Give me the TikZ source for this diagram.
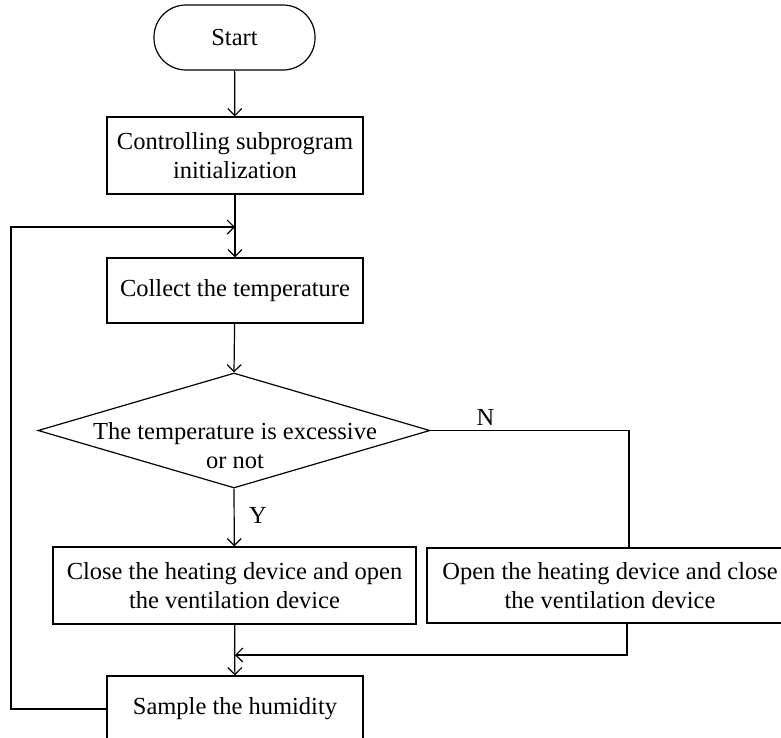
\documentclass[tikz,border=0pt]{standalone}
\usepackage{fontspec}
\setmainfont{Liberation Serif}
\usetikzlibrary{arrows.meta,shapes.geometric}
\begin{document}
\begin{tikzpicture}[x=1pt,y=-1pt,
  line width=1.2pt,
  font=\fontsize{24.5}{29}\selectfont,
  arr/.style={-{Straight Barb[length=7pt,width=14pt,line width=1.2pt]}},
  procbox/.style={draw,rectangle,inner sep=0pt,align=center},
  term/.style={draw,rectangle,rounded corners=32pt,inner sep=0pt,minimum width=161pt,minimum height=65pt},
  lbl/.style={anchor=base,inner sep=0pt}]
\useasboundingbox (0,0) rectangle (781,737);
\clip (0,0) rectangle (781,737);
\node[term] (start) at (234.5,37.5) {Start};
\node[procbox,minimum width=256pt,minimum height=77pt] (init) at (235,155.5) {Controlling subprogram\\initialization};
\node[procbox,minimum width=256pt,minimum height=65pt] (collect) at (235,290.5) {Collect the temperature};
\node[draw,diamond,inner sep=0pt,minimum width=392pt,minimum height=115pt] (dec) at (234,430.5) {};
\node[align=center,inner sep=0pt] (dtext) at (235,446) {The temperature is excessive\\or not};
\node[procbox,minimum width=363pt,minimum height=77pt] (lb) at (234.5,585.5) {Close the heating device and open\\the ventilation device};
\node[procbox,minimum width=366pt,minimum height=75pt] (rb) at (610,585.5) {Open the heating device and close\\the ventilation device};
\node[procbox,minimum width=256pt,minimum height=66pt] (sample) at (235,709) {Sample the humidity};
\node[lbl] (ylab) at (258,523) {Y};
\node[lbl] (nlab) at (485.5,425) {N};
\coordinate (nr) at (629,430.5);
\coordinate (rj) at (627,655);
\coordinate (mj) at (235,655);
\coordinate (lj) at (11,227);
\draw[arr] (start) -- (init);
\draw[arr] (init) -- (collect);
\draw[arr] (collect) -- (dec.north);
\draw[arr] (dec.south) -- (lb);
\draw (dec.east) -- (nr) -- (nr |- rb.north);
\draw[arr] (lb) -- (sample);
\draw[arr] (rj |- rb.south) -- (rj) -- (mj);
\draw[arr] (sample.west) -| (lj) -- (lj -| init.south);
\end{tikzpicture}
\end{document}
